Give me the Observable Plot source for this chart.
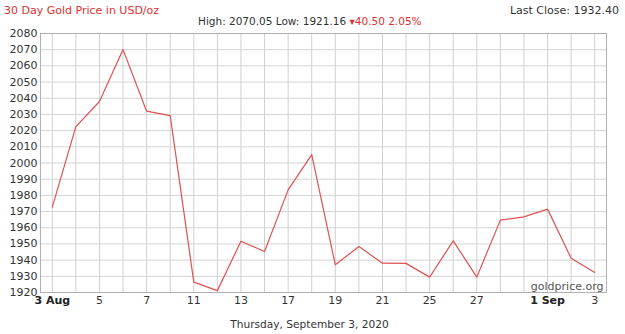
<!DOCTYPE html>
<html>
<head>
<meta charset="utf-8">
<script src="https://cdn.jsdelivr.net/npm/d3@7"></script>
<script src="https://cdn.jsdelivr.net/npm/@observablehq/plot@0.6"></script>
<style>
  body { margin: 0; background: #fff; font-family: "DejaVu Sans", Verdana, sans-serif; }
  #wrap { position: relative; width: 625px; height: 334px; overflow: hidden; }
  .t { position: absolute; font-size: 11px; white-space: nowrap; color: #333; }
  #chart { position: absolute; left: 0; top: 0; }
</style>
</head>
<body>
<div id="wrap">
  <div id="chart"></div>
  <div class="t" id="title" style="left:4px; top:4px; color:#e03030;"></div>
  <div class="t" id="last" style="right:6px; top:4px;"></div>
  <div class="t" id="stats" style="left:198px; top:15px; font-size:10.5px;"></div>
  <div class="t" id="foot" style="left:-3px; width:625px; text-align:center; top:318px; font-size:10.6px;"></div>
</div>
<script>
// ---- data ----
const dates = ["3 Aug","4 Aug","5 Aug","6 Aug","7 Aug","10 Aug","11 Aug","12 Aug","13 Aug","14 Aug",
  "17 Aug","18 Aug","19 Aug","20 Aug","21 Aug","24 Aug","25 Aug","26 Aug","27 Aug","28 Aug",
  "31 Aug","1 Sep","2 Sep","3 Sep"];
const prices = [1972.7, 2022.5, 2038.0, 2070.05, 2032.0, 2029.3, 1926.4, 1921.16, 1951.7, 1945.3,
  1983.4, 2005.2, 1937.1, 1948.4, 1938.1, 1938.0, 1929.5, 1951.9, 1929.5, 1964.7,
  1966.7, 1971.5, 1941.2, 1932.40];
const tickIdx = [0, 2, 4, 6, 8, 10, 12, 14, 16, 18, 21, 23];
const tickLabels = ["3 Aug","5","7","11","13","17","19","21","25","27","1 Sep","3"];
const boldTicks = ["3 Aug", "1 Sep"];
const yTicks = [1920,1930,1940,1950,1960,1970,1980,1990,2000,2010,2020,2030,2040,2050,2060,2070,2080];
const titleText = "30 Day Gold Price in USD/oz";
const lastClose = "Last Close: 1932.40";
const statsText = "High: 2070.05 Low: 1921.16 ";
const changeText = "\u25BE40.50 2.05%";
const footText = "Thursday, September 3, 2020";
const watermark = "goldprice.org";

// ---- build ----
const data = prices.map((p, i) => ({i, date: dates[i], price: p}));
const labelOf = new Map(tickIdx.map((t, k) => [t, tickLabels[k]]));
const normalIdx = tickIdx.filter(t => !boldTicks.includes(labelOf.get(t)));
const boldIdx = tickIdx.filter(t => boldTicks.includes(labelOf.get(t)));
const allIdx = d3.range(dates.length);

const chart = Plot.plot({
  width: 625,
  height: 310,
  marginTop: 33,
  marginBottom: 18,
  marginLeft: 40,
  marginRight: 19,
  style: { fontFamily: "DejaVu Sans, Verdana, sans-serif", fontSize: "11px", color: "#333", background: "transparent" },
  x: { type: "linear", domain: [-0.5, dates.length - 0.5] },
  y: { domain: [1920, 2080] },
  marks: [
    Plot.ruleX(allIdx, { stroke: "#d0d0d0", strokeWidth: 1 }),
    Plot.ruleY(yTicks, { stroke: "#d4d4d4", strokeWidth: 1 }),
    Plot.frame({ stroke: "#b0b0b0" }),
    Plot.axisY(yTicks, { tickSize: 0, tickPadding: 3, label: null, fill: "#333", tickFormat: d => String(d) }),
    Plot.axisX(normalIdx, { tickSize: 0, tickPadding: 4, label: null, tickFormat: d => labelOf.get(d), fill: "#333" }),
    Plot.axisX(boldIdx, { tickSize: 0, tickPadding: 4, label: null, tickFormat: d => labelOf.get(d), fontWeight: "bold", fill: "#222" }),
    Plot.line(data, { x: "i", y: "price", stroke: "#e05252", strokeWidth: 1.2 }),
    Plot.text([watermark], { frameAnchor: "bottom-right", dx: -3, dy: -3, fill: "#555", fontSize: 11 })
  ]
});
document.getElementById("chart").appendChild(chart);
document.getElementById("title").textContent = titleText;
document.getElementById("last").textContent = lastClose;
const st = document.getElementById("stats");
st.appendChild(document.createTextNode(statsText));
const red = document.createElement("span");
red.style.color = "#e03030";
red.textContent = changeText;
st.appendChild(red);
document.getElementById("foot").textContent = footText;
</script>
</body>
</html>
